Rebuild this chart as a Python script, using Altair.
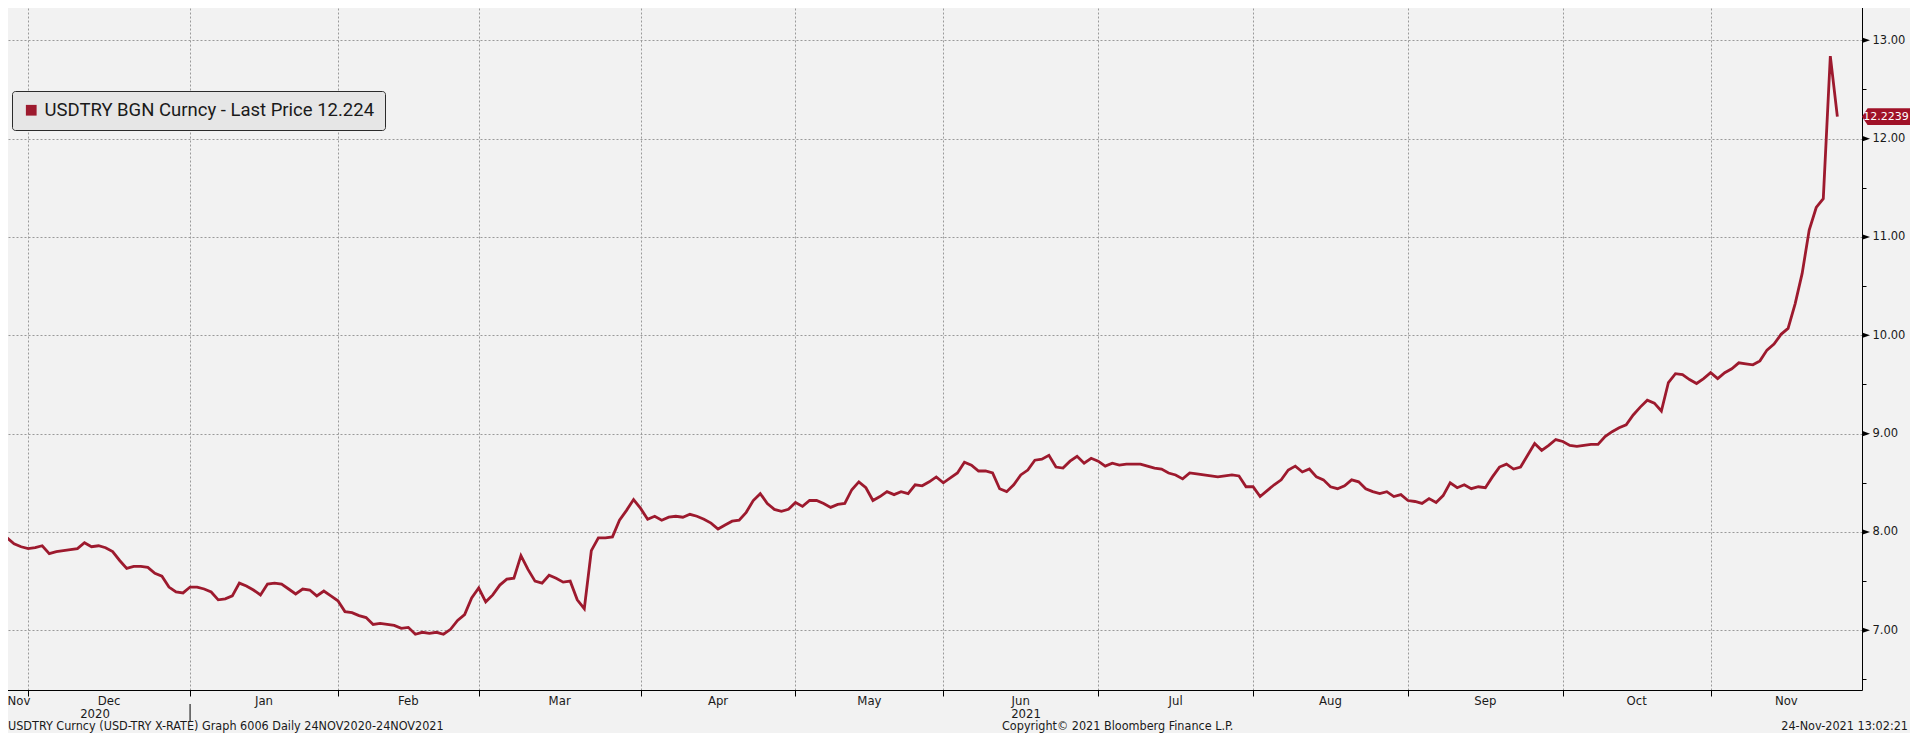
import altair as alt
import pandas as pd

# ---------------- data ----------------
series_name = "USDTRY BGN Curncy - Last Price"
start_date = "2020-11-24"
end_date = "2021-11-24"

values = [
    8.01, 7.94, 7.88, 7.85, 7.83, 7.84, 7.86, 7.78, 7.80, 7.81,
    7.82, 7.83, 7.89, 7.85, 7.86, 7.84, 7.80, 7.71, 7.63, 7.65,
    7.65, 7.64, 7.58, 7.55, 7.44, 7.39, 7.38, 7.44, 7.44, 7.42,
    7.39, 7.31, 7.32, 7.35, 7.48, 7.45, 7.41, 7.36, 7.47, 7.48,
    7.47, 7.42, 7.37, 7.42, 7.41, 7.35, 7.40, 7.35, 7.30, 7.19,
    7.18, 7.15, 7.13, 7.06, 7.07, 7.06, 7.05, 7.02, 7.03, 6.96,
    6.98, 6.97, 6.98, 6.96, 7.01, 7.10, 7.16, 7.33, 7.43, 7.29,
    7.36, 7.46, 7.52, 7.53, 7.76, 7.62, 7.50, 7.48, 7.56, 7.53,
    7.49, 7.50, 7.31, 7.22, 7.81, 7.94, 7.94, 7.95, 8.12, 8.22,
    8.33, 8.24, 8.13, 8.16, 8.12, 8.15, 8.16, 8.15, 8.18, 8.16,
    8.13, 8.09, 8.03, 8.07, 8.11, 8.12, 8.20, 8.32, 8.39, 8.29,
    8.23, 8.21, 8.23, 8.30, 8.26, 8.32, 8.32, 8.29, 8.25, 8.28,
    8.29, 8.43, 8.51, 8.45, 8.32, 8.36, 8.41, 8.38, 8.41, 8.39,
    8.48, 8.47, 8.51, 8.56, 8.50, 8.55, 8.60, 8.71, 8.68, 8.62,
    8.62, 8.60, 8.44, 8.41, 8.48, 8.58, 8.63, 8.73, 8.74, 8.78,
    8.66, 8.65, 8.72, 8.77, 8.70, 8.75, 8.72, 8.67, 8.70, 8.68,
    8.69, 8.69, 8.69, 8.67, 8.65, 8.64, 8.60, 8.58, 8.54, 8.60,
    8.59, 8.58, 8.57, 8.56, 8.57, 8.58, 8.57, 8.46, 8.46, 8.36,
    8.42, 8.48, 8.53, 8.63, 8.67, 8.61, 8.64, 8.56, 8.53, 8.46,
    8.44, 8.47, 8.53, 8.51, 8.44, 8.41, 8.39, 8.41, 8.36, 8.38,
    8.32, 8.31, 8.29, 8.34, 8.30, 8.37, 8.50, 8.45, 8.48, 8.44,
    8.46, 8.45, 8.56, 8.66, 8.69, 8.64, 8.66, 8.78, 8.90, 8.83,
    8.88, 8.94, 8.92, 8.88, 8.87, 8.88, 8.89, 8.89, 8.97, 9.02,
    9.06, 9.09, 9.19, 9.27, 9.34, 9.31, 9.23, 9.52, 9.61, 9.60,
    9.55, 9.51, 9.56, 9.62, 9.56, 9.62, 9.66, 9.72, 9.71, 9.70,
    9.74, 9.85, 9.91, 10.01, 10.07, 10.32, 10.63, 11.07, 11.30, 11.39,
    12.84, 12.2239,
]

y_ticks = [6.5, 7.0, 7.5, 8.0, 8.5, 9.0, 9.5, 10.0, 10.5, 11.0, 11.5, 12.0, 12.5, 13.0]
y_major = [7.0, 8.0, 9.0, 10.0, 11.0, 12.0, 13.0]
footer_left = "USDTRY Curncy (USD-TRY X-RATE) Graph 6006  Daily 24NOV2020-24NOV2021"
footer_mid = "Copyright\u00a9 2021 Bloomberg Finance L.P."
footer_right = "24-Nov-2021 13:02:21"

# ---------------- derived tables ----------------
dates = pd.bdate_range(start_date, end_date)
legend_label = f"{series_name} {values[-1]:.3f}"
df = pd.DataFrame({"idx": range(len(values)), "date": dates[: len(values)],
                   "value": values, "series": legend_label})

x_max = len(values) - 1 + 3.5
x_min = 0

# month boundaries: last trading day of each month
per = df["date"].dt.to_period("M")
month_breaks = [int(i) for i in df.index[per != per.shift(-1)][:-1]]
month_names = [d.strftime("%b") for d in df.groupby(per)["date"].first()]
edges = [x_min] + month_breaks + [x_max]
mids = [(edges[k] + edges[k + 1]) / 2 for k in range(len(month_names))]
mids[0] = max(mids[0], 2.7)
months_df = pd.DataFrame({"label": month_names, "mid": mids})

yr = df["date"].dt.year
year_break = [int(i) for i in df.index[yr != yr.shift(-1)][:-1]]
yedges = [x_min] + year_break + [x_max]
years_df = pd.DataFrame({"label": [str(y) for y in sorted(yr.unique())],
                         "mid": [(yedges[k] + yedges[k + 1]) / 2 for k in range(len(yedges) - 1)]})
ybreak_df = pd.DataFrame({"brk": year_break})
major_df = pd.DataFrame({"v": y_major})
tag_df = pd.DataFrame({"v": [values[-1]], "label": [f"{values[-1]:.4f}"]})

# ---------------- styling ----------------
RED = "#9d1a2e"
GRID = "#9a9a9a"
BG = "#f2f2f2"
NARROW = "Liberation Sans Narrow, DejaVu Sans Condensed, Liberation Sans"

xscale = alt.Scale(domain=[x_min, x_max], nice=False, zero=False)
yscale = alt.Scale(domain=[6.393, 13.41], nice=False, zero=False)

X_AXIS = alt.Axis(values=month_breaks, grid=True, gridDash=[2, 2], gridColor=GRID,
                  gridWidth=1, labels=False, ticks=True, tickSize=6, tickColor="black",
                  domainColor="black", domainWidth=1, title=None)
Y_AXIS = alt.Axis(orient="right", values=y_ticks,
                  labelExpr="datum.value % 1 == 0 ? format(datum.value, '.2f') : ''",
                  grid=True, gridDash=[2, 2], gridColor=GRID, gridWidth=1,
                  gridOpacity={"condition": {"test": "datum.value % 1 != 0", "value": 0}, "value": 1},
                  tickSize=4, tickColor="black", domainColor="black", domainWidth=1,
                  labelFont="DejaVu Sans", labelFontSize=11.5, labelColor="#1a1a1a",
                  labelPadding=6, title=None)

line = alt.Chart(df).mark_line(strokeWidth=2.8, clip=True).encode(
    x=alt.X("idx:Q", scale=xscale, axis=X_AXIS),
    y=alt.Y("value:Q", scale=yscale, axis=Y_AXIS),
    color=alt.Color("series:N", scale=alt.Scale(range=[RED]),
                    legend=alt.Legend(orient="none", legendX=12, legendY=91, title=None,
                                      fillColor="#e6e6e6", strokeColor="#2b2b2b", cornerRadius=3,
                                      padding=10, symbolType="square", symbolSize=115,
                                      symbolFillColor=RED, symbolStrokeColor=RED, symbolStrokeWidth=0,
                                      labelFont="Roboto", labelFontSize=18.5, labelColor="#1a1a1a",
                                      labelOffset=4, labelLimit=0)),
)

triangles = alt.Chart(major_df).mark_point(
    shape="M0,-0.7L2,0L0,0.7Z", size=64, filled=True, color="black", opacity=1
).encode(x=alt.datum(x_max, scale=xscale, axis=X_AXIS), y=alt.Y("v:Q", scale=yscale, axis=Y_AXIS))

tag = alt.Chart(tag_df).mark_point(
    shape="M0,0L0.2,-0.3L2,-0.3L2,0.3L0.2,0.3Z", size=3136, filled=True, color="#a01228", opacity=1
).encode(x=alt.datum(x_max, scale=xscale, axis=X_AXIS), y=alt.Y("v:Q", scale=yscale, axis=Y_AXIS))

tag_text = alt.Chart(tag_df).mark_text(
    dx=24, align="center", baseline="middle", color="white", font="DejaVu Sans", fontSize=11
).encode(x=alt.datum(x_max, scale=xscale, axis=X_AXIS), y=alt.Y("v:Q", scale=yscale, axis=Y_AXIS),
         text="label:N")

months = alt.Chart(months_df).mark_text(
    baseline="middle", align="center", font=NARROW, fontSize=13, color="#1a1a1a"
).encode(x=alt.X("mid:Q", scale=xscale, axis=X_AXIS), y=alt.value(701), text="label:N")

years = alt.Chart(years_df).mark_text(
    baseline="middle", align="center", font=NARROW, fontSize=13, color="#1a1a1a"
).encode(x=alt.X("mid:Q", scale=xscale, axis=X_AXIS), y=alt.value(714), text="label:N")

ysep = alt.Chart(ybreak_df).mark_rule(color="black", strokeWidth=1).encode(
    x=alt.X("brk:Q", scale=xscale, axis=X_AXIS), y=alt.value(704), y2=alt.value(721))

foot_l = alt.Chart(pd.DataFrame({"t": [footer_left]})).mark_text(
    align="left", baseline="middle", font=NARROW, fontSize=12.5, color="#1a1a1a"
).encode(x=alt.value(8), y=alt.value(726), text="t:N")
foot_m = alt.Chart(pd.DataFrame({"t": [footer_mid]})).mark_text(
    align="left", baseline="middle", font=NARROW, fontSize=12.5, color="#1a1a1a"
).encode(x=alt.value(1002), y=alt.value(726), text="t:N")
foot_r = alt.Chart(pd.DataFrame({"t": [footer_right]})).mark_text(
    align="right", baseline="middle", font=NARROW, fontSize=12.5, color="#1a1a1a"
).encode(x=alt.value(1908), y=alt.value(726), text="t:N")

chart = alt.layer(
    line, triangles, tag, tag_text, months, years, ysep, foot_l, foot_m, foot_r
).properties(
    width=1862, height=690,
    autosize=alt.AutoSizeParams(type="none"),
    padding={"left": -8, "top": -8, "right": 48, "bottom": 43},
    background=BG,
).configure_view(stroke=None, fill=BG)

chart.save("out.html", embed_options={"renderer": "svg", "actions": False})
